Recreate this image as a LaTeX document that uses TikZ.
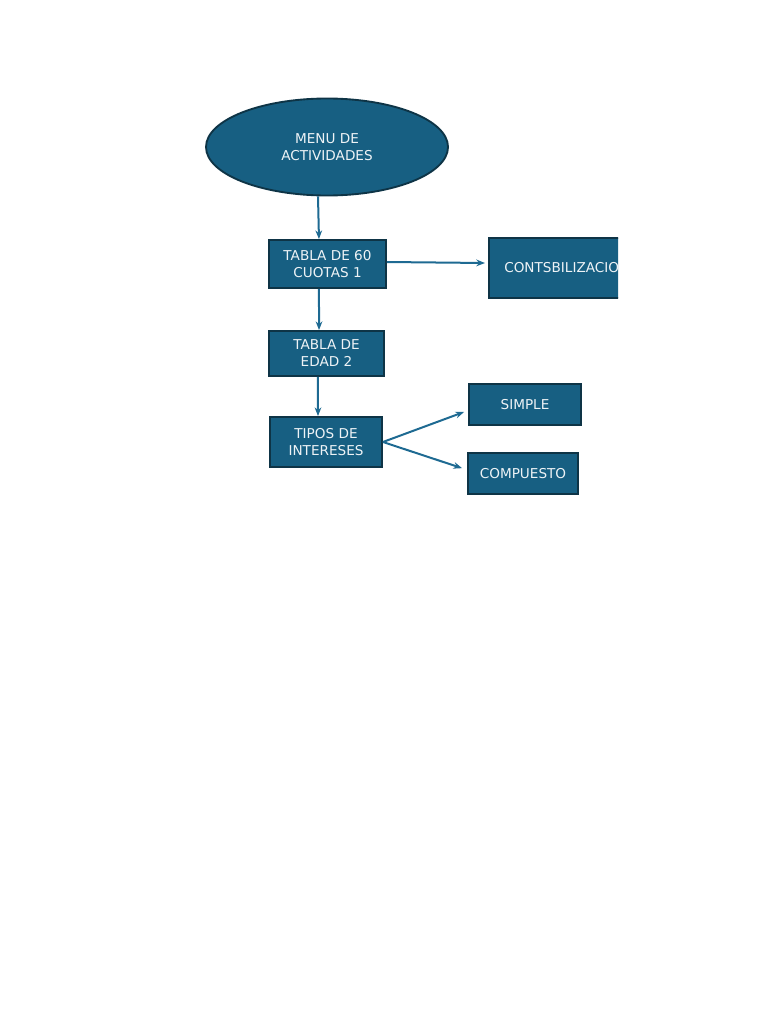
\documentclass[tikz,border=0pt]{standalone}
\usepackage{fontspec}
\setmainfont{DejaVu Sans}
\usepackage{tikz}
\usetikzlibrary{arrows.meta,shapes.geometric,calc}
\definecolor{cajaazul}{HTML}{175F82}
\definecolor{bordeazul}{HTML}{0E3446}
\definecolor{flechaazul}{HTML}{1E6A92}
\definecolor{textoclaro}{HTML}{EEF3F6}
\begin{document}
\begin{tikzpicture}[x=0.75pt,y=-0.75pt,
  caja/.style={draw=bordeazul,line width=1.4pt,fill=cajaazul,text=textoclaro,
    font=\fontsize{10.2}{12.75}\selectfont,align=center,inner sep=0pt},
  flecha/.style={draw=flechaazul,line width=1.5pt,-{Stealth[length=6.5pt,width=5pt]}}]
\useasboundingbox (0,0) rectangle (768,1024);
\begin{scope}
\clip (0,0) rectangle (618,1024);
\node[caja,ellipse,minimum width=181.5pt,minimum height=72.75pt] (menu) at (327,147) {MENU DE\\ACTIVIDADES};
\node[caja,minimum width=87.75pt,minimum height=36pt] (tabla1) at (327.5,264) {TABLA DE 60\\CUOTAS 1};
\node[caja,minimum width=120pt,minimum height=45pt,anchor=west] (conta) at (488,268) {};
\node[text=textoclaro,font=\fontsize{10.2}{12.75}\selectfont,anchor=west,inner sep=0pt] (contatxt) at (504,268) {CONTSBILIZACION};
\node[caja,minimum width=86.25pt,minimum height=33.75pt] (tabla2) at (326.5,353.5) {TABLA DE\\EDAD 2};
\node[caja,minimum width=84pt,minimum height=37.5pt] (tipos) at (326,442) {TIPOS DE\\INTERESES};
\node[caja,minimum width=84pt,minimum height=30.75pt] (simple) at (525,404.5) {SIMPLE};
\node[caja,minimum width=82.5pt,minimum height=30.75pt] (compuesto) at (523,473.5) {COMPUESTO};
\end{scope}
\draw[flecha] ([xshift=-6.75pt]menu.south) -- ([xshift=-6.4pt]tabla1.north);
\draw[flecha] ([xshift=-6.4pt]tabla1.south) -- ([xshift=-5.6pt]tabla2.north);
\draw[flecha] ([xshift=-6.4pt]tabla2.south) -- ([xshift=-6pt]tipos.north);
\draw[flecha] ([yshift=1.5pt]tabla1.east) -- ([xshift=-2.25pt,yshift=3.75pt]conta.west);
\draw[flecha] (tipos.east) -- ([xshift=-3pt,yshift=-5.6pt]simple.west);
\draw[flecha] (tipos.east) -- ([xshift=-3.75pt,yshift=4pt]compuesto.west);
\end{tikzpicture}
\end{document}
